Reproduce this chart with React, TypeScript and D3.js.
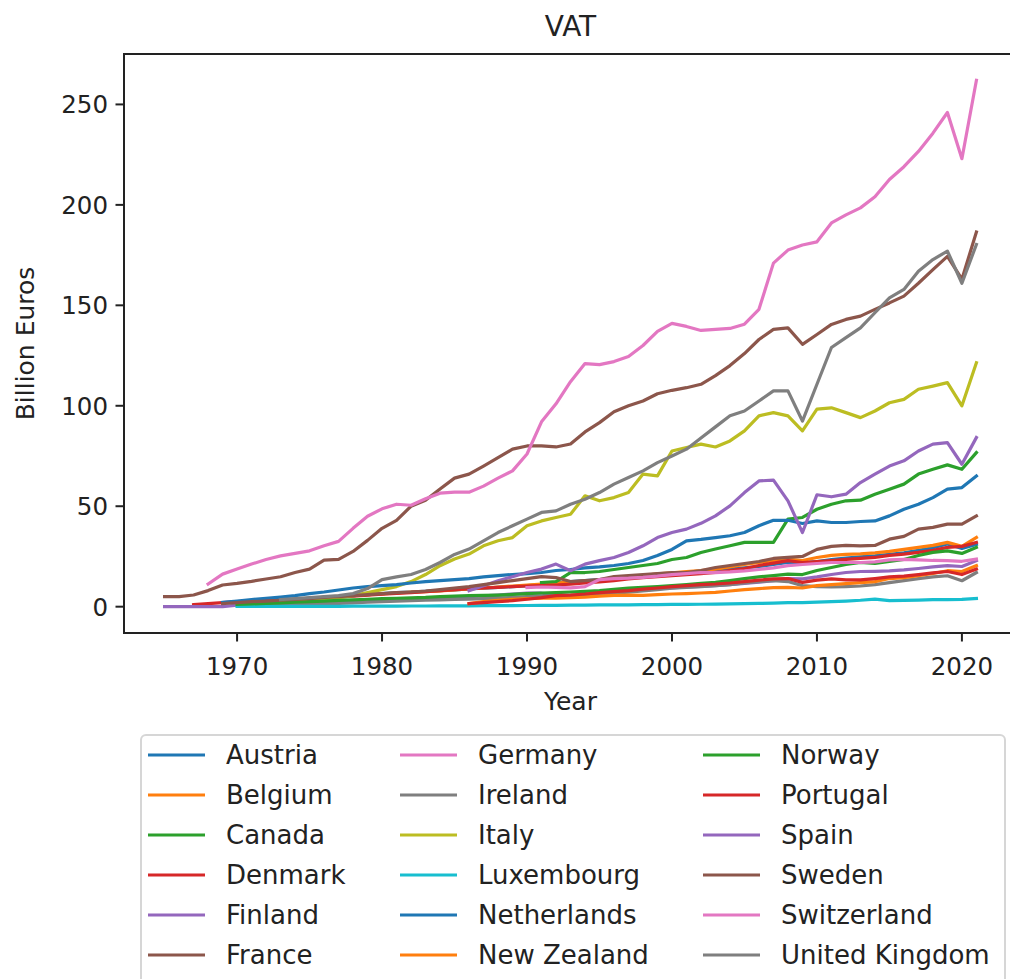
import React, { useEffect, useRef } from 'react';
import * as d3 from 'd3';

const countries = [
  'Austria', 'Belgium', 'Canada', 'Denmark', 'Finland', 'France',
  'Germany', 'Ireland', 'Italy', 'Luxembourg', 'Netherlands', 'New Zealand',
  'Norway', 'Portugal', 'Spain', 'Sweden', 'Switzerland', 'United Kingdom',
];

// first year of each series (values below are yearly from that year to 2021)
const startYears = [1973, 1971, 1991, 1967, 1965, 1965, 1968, 1972, 1973, 1970, 1969, 1986, 1970, 1986, 1986, 1969, 1990, 1973];

const austria = [
  3.5, 3.8, 4.2, 4.6, 5, 5.5, 6,
  6.5, 7, 7.3, 7.6, 8, 8.4, 8.8, 9.2, 9.6, 10,
  10.5, 11, 11.8, 12.5, 13, 13.5, 14, 14.6, 15.2, 16,
  16.5, 17, 17.5, 18, 18.7, 19.3, 20, 21, 22, 21.8,
  22.5, 23.5, 24.2, 24.8, 25.3, 26, 26.8, 28, 29.3, 31.2,
  29, 31,
];
const belgium = [
  2.5, 2.8, 3.2, 3.7, 4.2, 4.7, 5.2, 5.6, 6,
  6.4, 6.8, 7.2, 7.5, 7.9, 8.3, 8.8, 9.3, 9.8, 10.3,
  10.8, 11.3, 11.8, 12.2, 12.7, 13.2, 13.8, 14.5, 15.5, 16.3,
  16.8, 17.5, 18, 18.7, 19.8, 21, 22, 23, 23.7, 23,
  24.5, 25.5, 26, 26.3, 26.8, 27.5, 28.5, 29.5, 30.5, 32,
  30, 34.4,
];
const canada = [
  12, 12.5, 17, 17, 17.5, 18.5, 19.5, 20.5, 21.5,
  23.5, 24.5, 27, 28.7, 30.3, 32, 32, 32, 43.6, 44.4,
  48.5, 51, 52.7, 53, 56, 58.5, 61, 66, 68.4, 70.6,
  68.4, 76.7,
];
const denmark = [
  1, 1.5, 2,
  2.5, 2.8, 3, 3.2, 3.4, 3.8, 4.3, 4.8, 5.3, 5.8,
  6.2, 6.6, 7, 7.5, 8, 8.5, 9, 9.3, 9.6, 10,
  10.3, 10.5, 10.8, 11.2, 11.8, 12.3, 13, 13.8, 14.5, 15,
  15.5, 16, 16.5, 17, 18, 19, 20.5, 21.7, 22.9, 22,
  22.5, 23, 23.5, 24, 24.5, 25.5, 26.2, 27, 28, 29.5,
  30, 32,
];
const finland = [
  0, 0, 0, 0, 0,
  0.8, 1, 1.2, 1.4, 1.6, 1.8, 2, 2.2, 2.4, 2.7,
  3, 3.3, 3.6, 3.9, 4.2, 4.6, 5, 5.4, 5.8, 6.3,
  6.8, 6.7, 6, 5.5, 5.8, 7, 7.5, 8, 8.5, 9,
  9.4, 9.8, 10.1, 10.5, 11, 11.6, 12.2, 13, 14, 13.8,
  14.8, 16, 17, 17.5, 17.6, 17.8, 18.3, 19, 19.8, 20.4,
  20, 22.9,
];
const france = [
  5, 5, 5.8, 8, 10.8,
  11.6, 12.6, 13.8, 14.9, 17, 18.7, 23.2, 23.5, 27.5, 33,
  39, 43, 50, 53, 58.6, 64, 66, 70, 74.2, 78.4,
  80, 80, 79.5, 81, 87, 91.6, 97, 100, 102.4, 106,
  107.7, 109, 110.7, 115, 120, 126, 133, 138, 138.8, 130.6,
  135.5, 140.5, 143, 144.6, 148, 151.2, 154.6, 161, 167.8, 174.4,
  163, 186.5,
];
const germany = [
  11.3, 16.2,
  18.7, 21.2, 23.5, 25.3, 26.5, 27.8, 30.3, 32.5, 39, 45,
  48.7, 51, 50.5, 53.7, 56.5, 57, 57, 60, 64, 67.6,
  76, 92, 101, 112, 121, 120.5, 122, 124.5, 130, 137,
  141, 139.5, 137.5, 138, 138.5, 140.6, 148, 171, 177.5, 180,
  181.6, 191, 195, 198.5, 204, 212.6, 219, 226.6, 235.7, 246,
  223, 262,
];
const ireland = [
  0.5, 0.7, 0.9, 1.1, 1.3, 1.6, 1.9, 2.2,
  2.5, 2.8, 3, 3.2, 3.4, 3.6, 3.8, 4, 4.3, 4.6,
  5, 5.2, 5.4, 5.6, 5.9, 6.2, 6.7, 7.2, 7.8, 8.5,
  9.2, 9.6, 10, 10.5, 11, 11.8, 12.5, 12.9, 12.5, 10.5,
  10, 9.8, 10, 10.3, 11, 12, 13, 14, 14.8, 15.4,
  12.9, 17,
];
const italy = [
  2.5, 3, 3.5, 4, 4.5, 5.5, 7,
  8.5, 10, 12.5, 16, 20.4, 23.7, 26.2, 30.3, 32.8, 34.4,
  40.3, 42.7, 44.4, 46, 55.2, 52.7, 54.3, 56.8, 66, 65.1,
  77.5, 79.2, 80.9, 79.5, 82.5, 87.5, 95, 96.6, 95, 87.5,
  98.3, 99, 96.6, 94.1, 97.4, 101.5, 103.2, 108.2, 109.8, 111.5,
  100, 121.4,
];
const luxembourg = [
  0.1, 0.1, 0.1, 0.15, 0.15, 0.2, 0.2, 0.2, 0.25, 0.25,
  0.3, 0.3, 0.35, 0.35, 0.4, 0.4, 0.45, 0.5, 0.5, 0.55,
  0.6, 0.65, 0.7, 0.75, 0.8, 0.85, 0.9, 0.9, 1, 1.05,
  1.1, 1.15, 1.2, 1.3, 1.4, 1.5, 1.6, 1.8, 2, 2,
  2.3, 2.5, 2.8, 3.2, 3.8, 3, 3.1, 3.3, 3.5, 3.5,
  3.6, 4.1,
];
const netherlands = [
  2.1,
  2.8, 3.5, 4.2, 4.8, 5.5, 6.5, 7.3, 8.3, 9.3, 10,
  10.5, 11, 11.8, 12.5, 13, 13.5, 14, 14.8, 15.5, 16,
  16.5, 17, 18, 18.5, 19.3, 19.8, 20.5, 21.5, 23, 25.5,
  28.5, 32.8, 33.5, 34.4, 35.3, 36.9, 40.3, 43, 43, 41.4,
  42.7, 41.9, 41.9, 42.4, 42.7, 45.2, 48.5, 51, 54.3, 58.5,
  59.3, 65.1,
];
const newZealand = [
  1.5, 2.5, 3.2, 3.6,
  4, 4.2, 4.3, 4.5, 4.8, 5.3, 5.6, 5.8, 5.6, 6,
  6.3, 6.5, 6.8, 7.1, 7.8, 8.5, 9, 9.5, 9.6, 9.3,
  10.5, 11, 11.5, 12, 12.5, 14, 14.5, 15.5, 16.5, 17.9,
  17.5, 20.4,
];
const norway = [
  1.2, 1.4, 1.6, 1.9, 2.2, 2.5, 2.8, 3.1, 3.4, 3.7,
  4, 4.2, 4.4, 4.6, 5, 5.3, 5.5, 5.6, 5.8, 6.1,
  6.5, 6.8, 7, 7.3, 7.6, 8, 8.6, 9.2, 9.6, 10,
  10.5, 11, 11.6, 12.1, 13, 14, 14.8, 15.5, 16.2, 16,
  18, 19.5, 21, 22, 21.5, 22.5, 23.5, 25.5, 27, 27.8,
  26.5, 29.5,
];
const portugal = [
  1.5, 2, 2.5, 3,
  3.7, 4.5, 5.5, 5.8, 6.3, 7, 7.5, 8, 8.7, 9.3,
  10, 10.5, 11, 11.3, 11.8, 12.5, 13.2, 13.8, 14, 12.1,
  13.2, 13.8, 13.3, 13.3, 14, 14.8, 15.2, 16, 16.8, 17.5,
  16, 18.7,
];
const spain = [
  8, 10.4, 12.9, 14.9,
  17, 18.7, 21.2, 17.9, 21.2, 22.9, 24.5, 27, 30.3, 34.4,
  36.9, 38.6, 41.5, 45.2, 50.2, 56.8, 62.6, 63, 52.7, 36.9,
  55.7, 54.7, 56, 61.8, 66, 70, 72.6, 77.5, 80.9, 81.7,
  70.9, 84.2,
];
const sweden = [
  1.5,
  2, 2.5, 2.8, 3.2, 3.6, 4, 4.6, 5, 5.5, 6,
  6.5, 7, 7.3, 7.8, 8.5, 9.3, 10, 11, 12, 13,
  14, 15, 14.5, 12.5, 13, 13.5, 15, 15.5, 16, 16.5,
  17, 17, 18, 19.5, 20.5, 21.5, 22.5, 24, 24.5, 25,
  28.5, 30, 30.5, 30.3, 30.5, 33.6, 35, 38.6, 39.5, 41.1,
  41.1, 45.2,
];
const switzerland = [
  9.5, 9.8, 9.6, 9.4, 10, 13.5, 14, 14.2, 14.6, 15.2,
  16, 16.5, 17, 17, 17.3, 17.8, 18.5, 19.3, 20.4, 21,
  21.5, 22, 22, 22, 22.3, 23.3, 23.5, 23.3, 23, 22.9,
  22.6, 23.7,
];
const unitedKingdom = [
  3.5, 4, 4.5, 5, 5.5, 6.5, 9,
  13.5, 14.8, 16, 18.5, 22, 26, 28.7, 32.8, 36.9, 40.3,
  43.6, 46.9, 47.7, 51, 53.5, 56.8, 61, 64.3, 67.6, 71.7,
  75, 78.4, 84, 89.5, 95, 97.4, 102.4, 107.4, 107.4, 92.4,
  110.7, 129, 133.9, 138.8, 146.3, 153.7, 157.9, 167, 172.8, 177,
  161, 180.3,
];

const seriesValues = [
  austria, belgium, canada, denmark, finland, france, germany, ireland, italy,
  luxembourg, netherlands, newZealand, norway, portugal, spain, sweden, switzerland, unitedKingdom,
];

const xTicks = [1970, 1980, 1990, 2000, 2010, 2020];
const yTicks = [0, 50, 100, 150, 200, 250];

const W = 1010;
const H = 979;
const FONT = '"DejaVu Sans", sans-serif';

export default function App() {
  const svgRef = useRef<SVGSVGElement | null>(null);

  useEffect(() => {
    if (!svgRef.current) return;
    const svg = d3.select(svgRef.current);
    svg.selectAll('*').remove();

    const left = 124, right = 1017, top = 54, bottom = 633;
    const x = d3.scaleLinear().domain([1962.2, 2023.8]).range([left, right]);
    const y = d3.scaleLinear().domain([-13.1, 275.1]).range([bottom, top]);
    const color = d3.scaleOrdinal<number, string>().domain(d3.range(10)).range(d3.schemeCategory10);

    svg.append('rect').attr('width', W).attr('height', H).attr('fill', '#fff');

    svg.append('clipPath').attr('id', 'plot-clip')
      .append('rect')
      .attr('x', left).attr('y', top)
      .attr('width', right - left).attr('height', bottom - top);

    // lines
    const line = d3.line<[number, number]>()
      .x(d => x(d[0]))
      .y(d => y(d[1]));

    const g = svg.append('g').attr('clip-path', 'url(#plot-clip)');
    seriesValues.forEach((vals, i) => {
      const pts: [number, number][] = vals.map((v, k) => [startYears[i] + k, v]);
      g.append('path')
        .attr('d', line(pts))
        .attr('fill', 'none')
        .attr('stroke', color(i % 10))
        .attr('stroke-width', 3.2)
        .attr('stroke-linejoin', 'round')
        .attr('stroke-linecap', 'square');
    });

    // spines
    svg.append('rect')
      .attr('x', left).attr('y', top)
      .attr('width', right - left).attr('height', bottom - top)
      .attr('fill', 'none')
      .attr('stroke', '#222')
      .attr('stroke-width', 2);

    // x axis
    const xa = svg.append('g');
    xTicks.forEach(t => {
      xa.append('line')
        .attr('x1', x(t)).attr('x2', x(t))
        .attr('y1', bottom).attr('y2', bottom + 8.5)
        .attr('stroke', '#222').attr('stroke-width', 2);
      xa.append('text')
        .attr('x', x(t)).attr('y', bottom + 42)
        .attr('text-anchor', 'middle')
        .attr('font-family', FONT).attr('font-size', 24.5)
        .attr('fill', '#222')
        .text(t);
    });

    // y axis
    const ya = svg.append('g');
    yTicks.forEach(t => {
      ya.append('line')
        .attr('x1', left - 8.5).attr('x2', left)
        .attr('y1', y(t)).attr('y2', y(t))
        .attr('stroke', '#222').attr('stroke-width', 2);
      ya.append('text')
        .attr('x', left - 16).attr('y', y(t))
        .attr('dy', '0.36em')
        .attr('text-anchor', 'end')
        .attr('font-family', FONT).attr('font-size', 24.5)
        .attr('fill', '#222')
        .text(t);
    });

    // titles
    svg.append('text')
      .attr('x', (left + right) / 2).attr('y', 36)
      .attr('text-anchor', 'middle')
      .attr('font-family', FONT).attr('font-size', 28)
      .attr('fill', '#222')
      .text('VAT');
    svg.append('text')
      .attr('x', (left + right) / 2).attr('y', 710)
      .attr('text-anchor', 'middle')
      .attr('font-family', FONT).attr('font-size', 25)
      .attr('fill', '#222')
      .text('Year');
    svg.append('text')
      .attr('transform', `translate(34,${(top + bottom) / 2}) rotate(-90)`)
      .attr('text-anchor', 'middle')
      .attr('font-family', FONT).attr('font-size', 25)
      .attr('fill', '#222')
      .text('Billion Euros');

    // legend
    const lg = svg.append('g');
    lg.append('rect')
      .attr('x', 141).attr('y', 735)
      .attr('width', 864).attr('height', 262)
      .attr('rx', 5)
      .attr('fill', '#fff')
      .attr('stroke', '#d6d6d6')
      .attr('stroke-width', 2);
    const colX = [148, 400, 703];
    countries.forEach((name, i) => {
      const col = Math.floor(i / 6);
      const row = i % 6;
      const cy = 755 + row * 40;
      const hx = colX[col];
      lg.append('line')
        .attr('x1', hx).attr('x2', hx + 57)
        .attr('y1', cy).attr('y2', cy)
        .attr('stroke', color(i % 10))
        .attr('stroke-width', 3.2);
      lg.append('text')
        .attr('x', hx + 78).attr('y', cy)
        .attr('dy', '0.36em')
        .attr('font-family', FONT).attr('font-size', 26)
        .attr('fill', '#222')
        .text(name);
    });
  }, []);

  return (
    <svg
      ref={svgRef}
      width={W}
      height={H}
      style={{ position: 'absolute', left: 0, top: 0 }}
    />
  );
}
